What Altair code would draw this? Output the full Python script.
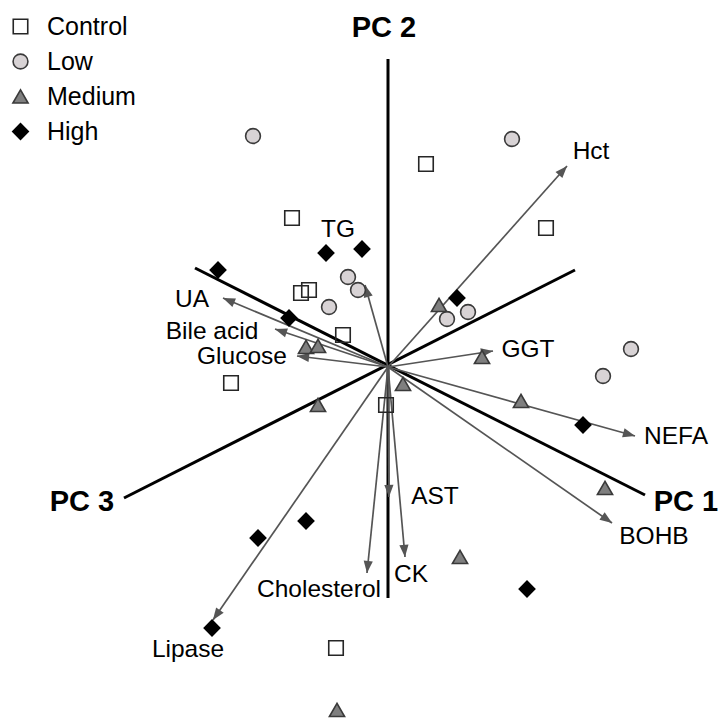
import altair as alt
import pandas as pd
import numpy as np

# ---- data (PCA score units; origin = centre of biplot) ----
groups = ["Control", "Low", "Medium", "High"]

ctrl_x = [0.38, 1.58, -0.96, -0.87, -0.79, -0.45, -1.57, -0.02, -0.52]
ctrl_y = [2.03, 1.39, 1.49, 0.74, 0.77, 0.32, -0.16, -0.38, -2.81]

low_x = [-1.35, 1.24, -0.40, -0.30, -0.59, 0.59, 0.80, 2.43, 2.15]
low_y = [2.31, 2.28, 0.90, 0.77, 0.60, 0.48, 0.55, 0.18, -0.09]

med_x = [0.51, -0.82, -0.70, 0.94, 0.15, -0.70, 1.33, 2.17, 0.72, -0.51]
med_y = [0.62, 0.20, 0.21, 0.10, -0.17, -0.38, -0.34, -1.21, -1.90, -3.43]

high_x = [-1.70, -0.62, -0.26, -0.99, 0.69, 1.95, -0.82, -1.30, 1.39, -1.76]
high_y = [0.97, 1.14, 1.18, 0.49, 0.69, -0.58, -1.54, -1.71, -2.22, -2.61]

variables = ["Hct", "TG", "UA", "Bile acid", "Glucose", "GGT", "NEFA", "BOHB",
             "AST", "CK", "Cholesterol", "Lipase"]
load_x = [1.79, -0.23, -1.65, -1.13, -0.91, 1.05, 2.47, 2.24, 0.01, 0.17, -0.21, -1.75]
load_y = [2.01, 0.82, 0.69, 0.38, 0.11, 0.16, -0.69, -1.56, -1.30, -1.90, -2.06, -2.53]
label_x = [2.03, -0.50, -1.96, -1.76, -1.46, 1.40, 2.88, 2.66, 0.47, 0.23, -0.69, -2.00]
label_y = [2.15, 1.37, 0.67, 0.35, 0.10, 0.17, -0.70, -1.70, -1.30, -2.08, -2.23, -2.83]

axes_names = ["PC 1", "PC 2", "PC 3"]
axis_x1 = [-1.93, 0.00, -2.64]
axis_y1 = [0.99, 3.08, -1.31]
axis_x2 = [2.57, 0.00, 1.87]
axis_y2 = [-1.28, -2.31, 0.97]
axis_lab_x = [2.98, -0.04, -3.06]
axis_lab_y = [-1.35, 3.39, -1.35]

# ---- frames ----
pts = pd.concat([
    pd.DataFrame({"x": ctrl_x, "y": ctrl_y, "group": "Control"}),
    pd.DataFrame({"x": low_x, "y": low_y, "group": "Low"}),
    pd.DataFrame({"x": med_x, "y": med_y, "group": "Medium"}),
    pd.DataFrame({"x": high_x, "y": high_y, "group": "High"}),
], ignore_index=True)

lx = np.array(load_x)
ly = np.array(load_y)
ln = np.hypot(lx, ly)
head_back = 0.06  # arrowhead centre sits a little behind the tip
vec = pd.DataFrame({
    "var": variables,
    "x0": 0.0, "y0": 0.0,
    "x": lx, "y": ly,
    "hx": lx - head_back * lx / ln,
    "hy": ly - head_back * ly / ln,
    "angle": np.degrees(np.arctan2(lx, ly)) % 360,
    "lx": label_x, "ly": label_y,
})

axdf = pd.DataFrame({"name": axes_names, "x1": axis_x1, "y1": axis_y1,
                     "x2": axis_x2, "y2": axis_y2,
                     "lx": axis_lab_x, "ly": axis_lab_y})

xs = alt.Scale(domain=[-3.88, 3.36], nice=False, zero=False)
ys = alt.Scale(domain=[-3.54, 3.67], nice=False, zero=False)
FONT = "Liberation Sans"

axis_lines = alt.Chart(axdf).mark_rule(color="black", strokeWidth=3).encode(
    x=alt.X("x1:Q", scale=xs, axis=None), y=alt.Y("y1:Q", scale=ys, axis=None),
    x2="x2:Q", y2="y2:Q")

arrow_lines = alt.Chart(vec).mark_rule(color="#555555", strokeWidth=1.7).encode(
    x=alt.X("x0:Q", scale=xs, axis=None), y=alt.Y("y0:Q", scale=ys, axis=None),
    x2="x:Q", y2="y:Q")

arrow_heads = alt.Chart(vec).mark_point(
    shape="M0,-1L-0.75,1L0.75,1Z", filled=True, fill="#555555", opacity=1,
    size=150, strokeWidth=0).encode(
    x=alt.X("hx:Q", scale=xs, axis=None), y=alt.Y("hy:Q", scale=ys, axis=None),
    angle=alt.Angle("angle:Q", scale=None))

points = alt.Chart(pts).mark_point(filled=True, opacity=1, strokeWidth=1.6).encode(
    x=alt.X("x:Q", scale=xs, axis=None),
    y=alt.Y("y:Q", scale=ys, axis=None),
    shape=alt.Shape("group:N", title=None,
                    scale=alt.Scale(domain=groups, range=["square", "circle", "triangle-up", "diamond"])),
    fill=alt.Fill("group:N", title=None,
                  scale=alt.Scale(domain=groups, range=["rgba(255,255,255,0)", "#d8d3d5", "#7f7f7f", "#000000"])),
    stroke=alt.Stroke("group:N", title=None,
                      scale=alt.Scale(domain=groups, range=["#262626", "#3a3a3a", "#3a3a3a", "#000000"])),
    size=alt.Size("group:N", title=None,
                  scale=alt.Scale(domain=groups, range=[210, 240, 500, 220])),
)

var_labels = alt.Chart(vec).mark_text(font=FONT, fontSize=24.5, color="black",
                                      align="center", baseline="middle").encode(
    x=alt.X("lx:Q", scale=xs, axis=None), y=alt.Y("ly:Q", scale=ys, axis=None),
    text="var:N")

axis_labels = alt.Chart(axdf).mark_text(font=FONT, fontSize=29, fontWeight="bold",
                                        color="black", align="center", baseline="middle").encode(
    x=alt.X("lx:Q", scale=xs, axis=None), y=alt.Y("ly:Q", scale=ys, axis=None),
    text="name:N")

chart = alt.layer(axis_lines, arrow_lines, arrow_heads, points, var_labels, axis_labels).properties(
    width=724, height=721, padding=0, autosize=alt.AutoSizeParams(type="none"),
    background="white"
).configure_view(stroke=None).configure_legend(
    orient="none", legendX=8, legendY=14, padding=0, offset=0,
    labelFont=FONT, labelFontSize=25, labelColor="black", labelOffset=14,
    rowPadding=9, symbolStrokeWidth=1.6, symbolOpacity=1
)

chart.save("out.html", embed_options={"renderer": "svg", "actions": False})
